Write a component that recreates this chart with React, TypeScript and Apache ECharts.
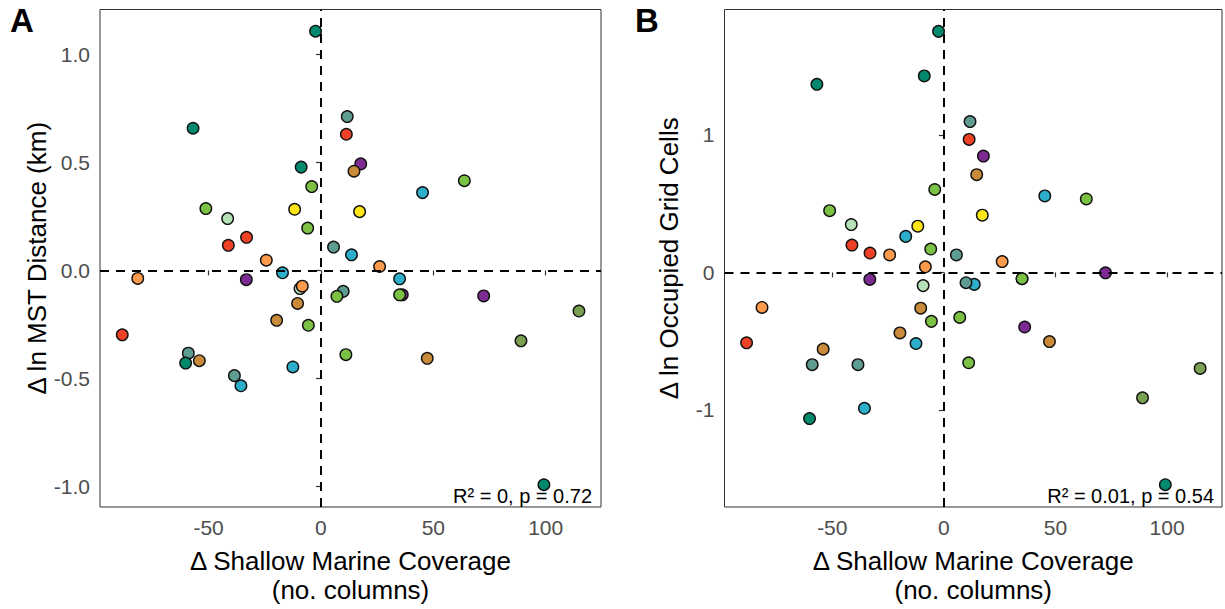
import React, { useEffect, useRef } from "react";
import * as echarts from "echarts";

// Change in shallow-marine coverage (no. columns), one value per taxon
const shallowMarine = [
  -2.4, -56.9, -8.8, -4.1, -51.2, -41.5, -11.7, -5.9, -33.1, -41.2,
  5.6, 11.7, 11.3, 17.7, 14.7, 63.8, 45.2, 17.2, 13.6, -24.3,
  -17.1, -81.5, -33.2, -9.3, -8.3, -10.4, -19.7, -5.6, -88.4, -59.0,
  -60.2, -54.1, -38.5, -35.6, -12.5, 9.9, 7.1, 11.1, 26.1, 35.0,
  36.2, 35.0, 72.4, 114.8, 89.0, 47.3, 99.2,
];

// Δ ln MST distance (km)
const mstDistance = [
  1.107, 0.658, 0.478, 0.388, 0.286, 0.24, 0.283, 0.196, 0.153, 0.116,
  0.108, 0.712, 0.63, 0.493, 0.459, 0.415, 0.36, 0.272, 0.072, 0.047,
  -0.011, -0.037, -0.043, -0.084, -0.073, -0.153, -0.231, -0.254, -0.298, -0.383,
  -0.429, -0.418, -0.487, -0.534, -0.447, -0.097, -0.12, -0.39, 0.018, -0.039,
  -0.113, -0.113, -0.118, -0.188, -0.326, -0.407, -0.992,
];

// Δ ln occupied grid cells
const gridCells = [
  1.753, 1.368, 1.429, 0.603, 0.449, 0.348, 0.336, 0.17, 0.141, 0.199,
  0.127, 1.097, 0.967, 0.846, 0.711, 0.534, 0.556, 0.416, -0.087, 0.127,
  0.262, -0.255, -0.051, -0.096, 0.041, -0.26, -0.44, -0.356, -0.512, -0.671,
  -1.063, -0.558, -0.671, -0.988, -0.517, -0.075, -0.327, -0.657, 0.079, -0.046,
  -0.397, -0.046, -0.003, -0.698, -0.912, -0.503, -1.544,
];

// Colour group of each taxon
const groups = [
  "teal", "teal", "teal", "green", "green", "pale", "yellow", "green", "red", "red",
  "grayteal", "grayteal", "red", "purple", "brown", "green", "cyan", "yellow", "cyan", "orange",
  "cyan", "orange", "purple", "pale", "orange", "brown", "brown", "green", "red", "grayteal",
  "teal", "brown", "grayteal", "cyan", "cyan", "grayteal", "green", "green", "orange", "cyan",
  "purple", "green", "purple", "olive", "olive", "brown", "teal",
];

const palette: Record<string, string> = {
  teal: "#00896C",
  grayteal: "#5E9C91",
  red: "#EE4125",
  orange: "#FD9A4C",
  brown: "#C98B3A",
  cyan: "#2BAFCB",
  purple: "#7D2A93",
  yellow: "#FFE614",
  green: "#7BC244",
  pale: "#B5E2B7",
  olive: "#7AA152",
};

const xTicks = [-50, 0, 50, 100];
const yTicksA = [-1.0, -0.5, 0.0, 0.5, 1.0];
const yTicksB = [-1, 0, 1];

const statsA = "R² = 0, p = 0.72";
const statsB = "R² = 0.01, p = 0.54";

const FONT = "Liberation Sans, Arial, Helvetica, sans-serif";
const TICK_SIZE = 21;
const TITLE_SIZE = 26;

export default function App() {
  const ref = useRef<HTMLDivElement>(null);

  useEffect(() => {
    if (!ref.current) return;
    const chart = echarts.init(ref.current, undefined, { renderer: "svg" });

    const mkData = (ys: number[]) =>
      shallowMarine.map((x, i) => ({
        value: [x, ys[i]],
        itemStyle: { color: palette[groups[i]] },
      }));

    const gridBase = {
      top: 9.5,
      bottom: 98.5,
      show: true,
      borderColor: "#333333",
      borderWidth: 1,
      backgroundColor: "#ffffff",
    };

    const xAxisBase = (gridIndex: number) => ({
      type: "value" as const,
      gridIndex,
      min: -98.3,
      max: 124.6,
      splitLine: { show: false },
      axisLine: { show: false },
      axisTick: {
        show: true,
        customValues: xTicks,
        length: 5,
        lineStyle: { color: "#333333", width: 1.2 },
      },
      axisLabel: {
        customValues: xTicks,
        color: "#4D4D4D",
        fontSize: TICK_SIZE,
        fontFamily: FONT,
        margin: 10,
      },
      name: "Δ Shallow Marine Coverage\n(no. columns)",
      nameLocation: "middle" as const,
      nameGap: 39,
      nameTextStyle: {
        color: "#000000",
        fontSize: TITLE_SIZE,
        fontFamily: FONT,
        lineHeight: 29,
      },
    });

    const yAxisBase = (
      gridIndex: number,
      min: number,
      max: number,
      ticks: number[],
      fmt: (v: number) => string,
      name: string,
      nameGap: number
    ) => ({
      type: "value" as const,
      gridIndex,
      min,
      max,
      splitLine: { show: false },
      axisLine: { show: false },
      axisTick: {
        show: true,
        customValues: ticks,
        length: 5,
        lineStyle: { color: "#333333", width: 1.2 },
      },
      axisLabel: {
        customValues: ticks,
        color: "#4D4D4D",
        fontSize: TICK_SIZE,
        fontFamily: FONT,
        margin: 10,
        formatter: fmt,
      },
      name,
      nameLocation: "middle" as const,
      nameGap,
      nameTextStyle: { color: "#000000", fontSize: TITLE_SIZE, fontFamily: FONT },
    });

    const refLines = {
      silent: true,
      symbol: "none",
      label: { show: false },
      lineStyle: { color: "#000000", width: 2, type: [9, 7] as number[] },
      data: [{ xAxis: 0 }, { yAxis: 0 }],
    };

    const scatter = (idx: number, ys: number[]) => ({
      type: "scatter" as const,
      xAxisIndex: idx,
      yAxisIndex: idx,
      symbolSize: 11.5,
      itemStyle: { borderColor: "#111111", borderWidth: 1.4, opacity: 1 },
      data: mkData(ys),
      markLine: refLines,
      z: 3,
    });

    chart.setOption({
      animation: false,
      backgroundColor: "#ffffff",
      grid: [
        { ...gridBase, left: 100, right: 624 },
        { ...gridBase, left: 724.5, right: 3 },
      ],
      xAxis: [xAxisBase(0), xAxisBase(1)],
      yAxis: [
        yAxisBase(
          0,
          -1.095,
          1.2075,
          yTicksA,
          (v: number) => v.toFixed(1),
          "Δ ln MST Distance (km)",
          47
        ),
        yAxisBase(
          1,
          -1.706,
          1.912,
          yTicksB,
          (v: number) => String(Math.round(v)),
          "Δ ln Occupied Grid Cells",
          43
        ),
      ],
      series: [scatter(0, mstDistance), scatter(1, gridCells)],
      graphic: [
        {
          type: "text",
          left: 10,
          top: 4,
          style: { text: "A", fontSize: 33, fontWeight: "bold", fontFamily: FONT, fill: "#000" },
        },
        {
          type: "text",
          left: 635,
          top: 4,
          style: { text: "B", fontSize: 33, fontWeight: "bold", fontFamily: FONT, fill: "#000" },
        },
        {
          type: "text",
          right: 1225 - 592,
          top: 486,
          z: 10,
          style: { text: statsA, fontSize: 20, fontFamily: FONT, fill: "#000" },
        },
        {
          type: "text",
          right: 1225 - 1214,
          top: 486,
          z: 10,
          style: { text: statsB, fontSize: 20, fontFamily: FONT, fill: "#000" },
        },
      ],
    });

    return () => chart.dispose();
  }, []);

  return (
    <div
      ref={ref}
      style={{ position: "fixed", left: 0, top: 0, width: 1225, height: 609, background: "#fff" }}
    />
  );
}
